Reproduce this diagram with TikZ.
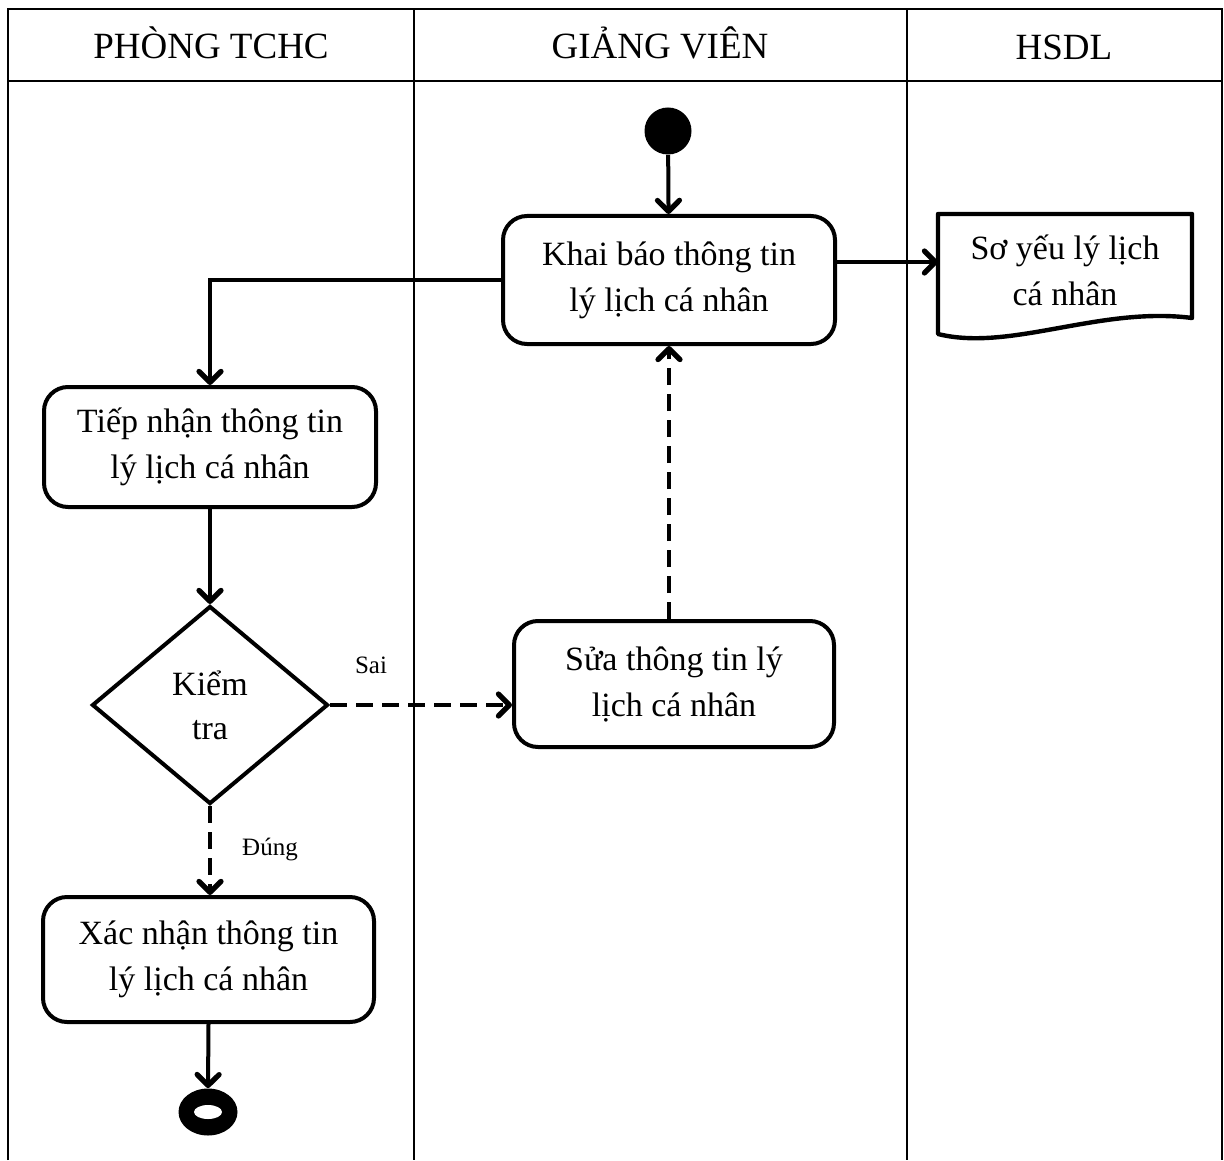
\documentclass[tikz,border=0pt]{standalone}
\usepackage{fontspec}
\setmainfont{Liberation Serif}
\usetikzlibrary{arrows.meta,shapes.geometric}
\begin{document}
\begin{tikzpicture}[x=0.5pt,y=-0.5pt,
  grid/.style={line width=1pt},
  lane/.style={font=\fontsize{18.5}{22}\selectfont},
  act/.style={draw,line width=2pt,rounded corners=12pt,align=center,
    font=\fontsize{17}{23}\selectfont,inner sep=0pt},
  flow/.style={line width=2pt,-{Straight Barb[length=5.5pt,width=11pt,line width=2.6pt,line cap=round,line join=round]}},
  back/.style={flow,dash pattern=on 8.5pt off 4.5pt},
  tag/.style={font=\fontsize{12.5}{14}\selectfont}]
\useasboundingbox (0,0) rectangle (1224,1160);
\fill[white] (0,0) rectangle (1224,1160);
% swimlane table
\draw[grid] (8,1160) -- (8,9) -- (1222,9) -- (1222,1160);
\draw[grid] (8,81) -- (1222,81);
\draw[grid] (414,9) -- (414,1160);
\draw[grid] (907,9) -- (907,1160);
\node[lane] (h1) at (211,43) {PHÒNG TCHC};
\node[lane] (h2) at (660,43) {GIẢNG VIÊN};
\node[lane] (h3) at (1064,47) {HSDL};
% activities
\node[circle,fill=black,minimum size=23.5pt,inner sep=0] (start) at (668,131) {};
\node[act,minimum width=166pt,minimum height=64pt] (khai) at (669,280)
  {Khai báo thông tin\\lý lịch cá nhân};
\node[act,minimum width=166pt,minimum height=60pt] (tiep) at (210,447)
  {Tiếp nhận thông tin\\lý lịch cá nhân};
\node[draw,diamond,line width=2pt,minimum width=118pt,minimum height=99pt,
  inner sep=0pt,align=center,font=\fontsize{17}{22}\selectfont] (chk) at (210,705)
  {Kiểm\\tra};
\node[act,minimum width=160pt,minimum height=63pt] (sua) at (674,684)
  {Sửa thông tin lý\\lịch cá nhân};
\node[act,minimum width=165.5pt,minimum height=62.5pt] (xac) at (208.5,959.5)
  {Xác nhận thông tin\\lý lịch cá nhân};
\node[ellipse,fill=black,minimum width=29.5pt,minimum height=23.5pt,inner sep=0] (end) at (208,1112) {};
\fill[white] (end.center) ellipse [x radius=7pt,y radius=3.5pt];
% document
\node[align=center,font=\fontsize{17}{23}\selectfont,minimum width=127pt,minimum height=60pt,inner sep=0pt]
  (doc) at (1065,270) {Sơ yếu lý lịch\\cá nhân};
\draw[line width=2.2pt,line join=round] (938,334) -- (938,214) -- (1192,214) -- (1192,318)
  .. controls (1100,306) and (1010,352) .. (938,334) -- cycle;
\coordinate (docin) at (938,262);
% connectors
\draw[flow] (start) -- (khai);
\draw[flow] (khai.east |- docin) -- (docin);
\draw[flow] (khai.west) -| (tiep.north);
\draw[flow] (tiep.south) -- (chk.north);
\draw[back] (chk.east) -- (chk.east -| sua.west);
\draw[back] (khai.south |- sua.north) -- (khai.south);
\draw[back] (chk.south) -- (xac.north -| chk.south);
\draw[flow] (xac.south) -- (end.north);
\node[tag] (sai) at (371,665) {Sai};
\node[tag] (dung) at (270,849) {Đúng};
\end{tikzpicture}
\end{document}
